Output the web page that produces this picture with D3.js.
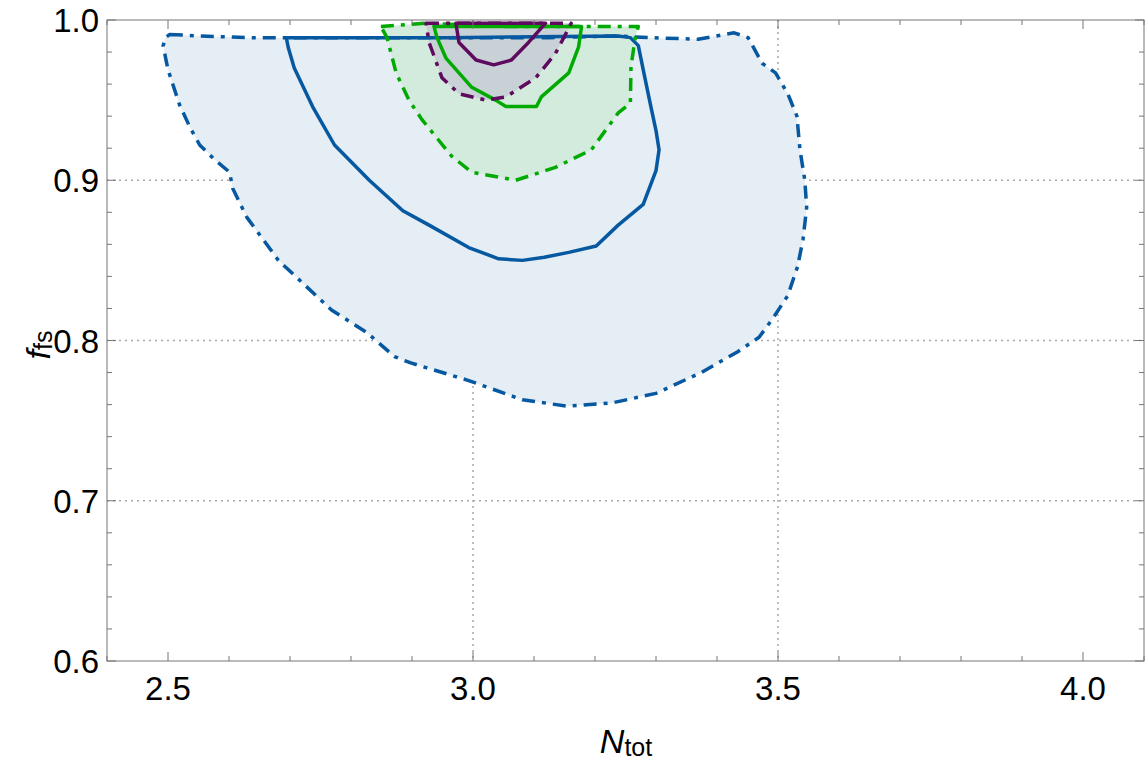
<!DOCTYPE html>
<html>
<head>
<meta charset="utf-8">
<script src="https://cdn.jsdelivr.net/npm/d3@7"></script>
<style>
  body { margin: 0; background: #fff; }
  svg { display: block; font-family: "Liberation Sans", Arial, sans-serif; }
</style>
</head>
<body>
<svg></svg>
<script>
// contour points [N_tot, f_fs]
let blueOuter = [
  [2.503,0.991],[2.552,0.990],[2.634,0.989],[2.694,0.989],[2.797,0.989],[2.960,0.989],
  [3.124,0.989],[3.238,0.990],[3.287,0.989],[3.369,0.988],[3.428,0.992],[3.451,0.989],
  [3.474,0.973],[3.496,0.967],[3.516,0.954],[3.531,0.940],[3.536,0.919],[3.544,0.900],
  [3.547,0.883],[3.541,0.863],[3.532,0.846],[3.516,0.828],[3.492,0.814],[3.469,0.802],
  [3.434,0.793],[3.374,0.780],[3.300,0.767],[3.227,0.761],[3.155,0.759],[3.081,0.763],
  [2.993,0.775],[2.898,0.786],[2.871,0.790],[2.826,0.805],[2.768,0.819],[2.681,0.850],
  [2.629,0.877],[2.606,0.895],[2.601,0.905],[2.576,0.913],[2.552,0.922],[2.536,0.933],
  [2.519,0.947],[2.500,0.969],[2.492,0.984],[2.496,0.989]
]
let blueInner = [
  [2.694,0.989],[2.960,0.989],[3.238,0.990],[3.258,0.989],[3.271,0.984],[3.279,0.969],
  [3.291,0.947],[3.300,0.931],[3.305,0.919],[3.300,0.906],[3.291,0.897],[3.279,0.885],
  [3.238,0.872],[3.202,0.859],[3.157,0.855],[3.117,0.852],[3.081,0.850],[3.042,0.851],
  [2.993,0.858],[2.928,0.872],[2.885,0.881],[2.830,0.900],[2.773,0.922],[2.737,0.946],
  [2.707,0.970],[2.697,0.983]
]
let greenOuter = [
  [2.849,0.996],[2.923,0.998],[3.042,0.996],[3.161,0.996],[3.271,0.996],[3.266,0.989],
  [3.259,0.971],[3.258,0.948],[3.238,0.942],[3.194,0.919],[3.135,0.908],[3.070,0.900],
  [2.998,0.905],[2.965,0.915],[2.916,0.938],[2.895,0.950],[2.874,0.967],[2.859,0.989]
]
let greenInner = [
  [2.936,0.996],[3.178,0.996],[3.173,0.983],[3.157,0.967],[3.112,0.952],[3.104,0.946],
  [3.054,0.946],[3.037,0.950],[2.998,0.958],[2.956,0.976],[2.941,0.989]
]
let purpleOuter = [
  [2.923,0.998],[3.161,0.998],[3.153,0.992],[3.135,0.979],[3.103,0.964],[3.054,0.952],
  [3.021,0.950],[2.977,0.954],[2.949,0.964],[2.928,0.986]
]
let purpleInner = [
  [2.972,0.998],[3.119,0.998],[3.091,0.986],[3.063,0.975],[3.034,0.972],[3.005,0.975],
  [2.977,0.986]
]

let xTicks = [2.5, 3.0, 3.5, 4.0]
let yTicks = [0.6, 0.7, 0.8, 0.9, 1.0]
let xGrid = [3.0, 3.5]
let yGrid = [0.7, 0.8, 0.9]

let width = 1146
let height = 765
let plotLeft = 107, plotRight = 1144, plotTop = 20, plotBottom = 661

let svg = d3.select('svg').attr('width', width).attr('height', height)

let xScale = d3.scaleLinear().domain([2.4, 4.1]).range([plotLeft, plotRight])
let yScale = d3.scaleLinear().domain([0.6, 1.0]).range([plotBottom, plotTop])

let blue = '#0658a0'
let green = '#00aa00'
let purple = '#5e0a5e'
let dashDot = '13,7,4,7'

// grid
svg.append('g').selectAll('line').data(xGrid).join('line')
    .attr('x1', d => xScale(d)).attr('x2', d => xScale(d))
    .attr('y1', plotTop).attr('y2', plotBottom)
    .attr('stroke', '#a8a8a8').attr('stroke-width', 1.5).attr('stroke-dasharray', '2,4')
svg.append('g').selectAll('line').data(yGrid).join('line')
    .attr('x1', plotLeft).attr('x2', plotRight)
    .attr('y1', d => yScale(d)).attr('y2', d => yScale(d))
    .attr('stroke', '#a8a8a8').attr('stroke-width', 1.5).attr('stroke-dasharray', '2,4')

let line = d3.line().x(d => xScale(d[0])).y(d => yScale(d[1]))
let closed = pts => line(pts) + 'Z'

// fills
svg.append('path').attr('d', closed(blueOuter)).attr('fill', '#e5edf5')
svg.append('path').attr('d', closed(greenOuter)).attr('fill', '#d3ebdc')
svg.append('path').attr('d', closed(purpleOuter)).attr('fill', '#c8d1d5')

// outlines
let contours = [
  [blueOuter, blue, dashDot],
  [blueInner, blue, null],
  [greenOuter, green, dashDot],
  [greenInner, green, null],
  [purpleOuter, purple, dashDot],
  [purpleInner, purple, null]
]
contours.forEach(c => {
    svg.append('path').attr('d', closed(c[0]))
        .attr('fill', 'none').attr('stroke', c[1]).attr('stroke-width', 3.5)
        .attr('stroke-linejoin', 'round')
        .attr('stroke-dasharray', c[2])
})

// frame
svg.append('rect').attr('x', plotLeft).attr('y', plotTop)
    .attr('width', plotRight - plotLeft).attr('height', plotBottom - plotTop)
    .attr('fill', 'none').attr('stroke', '#777').attr('stroke-width', 1)

// ticks
let xMinor = d3.range(24, 42).map(d => d / 10)
let yMinor = d3.range(30, 51).map(d => d / 50)
let isMajorX = d => Math.abs(d * 2 - Math.round(d * 2)) < 1e-6
let isMajorY = d => Math.abs(d * 10 - Math.round(d * 10)) < 1e-6

let tickG = svg.append('g').attr('stroke', '#777').attr('stroke-width', 1)
xMinor.forEach(d => {
    let len = isMajorX(d) ? 9 : 5
    let x = xScale(d)
    tickG.append('line').attr('x1', x).attr('x2', x).attr('y1', plotBottom).attr('y2', plotBottom - len)
    tickG.append('line').attr('x1', x).attr('x2', x).attr('y1', plotTop).attr('y2', plotTop + len)
})
yMinor.forEach(d => {
    let len = isMajorY(d) ? 9 : 5
    let y = yScale(d)
    tickG.append('line').attr('x1', plotLeft).attr('x2', plotLeft + len).attr('y1', y).attr('y2', y)
    tickG.append('line').attr('x1', plotRight).attr('x2', plotRight - len).attr('y1', y).attr('y2', y)
})

// tick labels
svg.append('g').selectAll('text').data(xTicks).join('text')
    .attr('x', d => xScale(d)).attr('y', 700)
    .attr('text-anchor', 'middle').attr('font-size', 33).attr('fill', '#000')
    .text(d => d3.format('.1f')(d))
svg.append('g').selectAll('text').data(yTicks).join('text')
    .attr('x', 99).attr('y', d => yScale(d) + 12)
    .attr('text-anchor', 'end').attr('font-size', 33).attr('fill', '#000')
    .text(d => d3.format('.1f')(d))

// axis labels
let xl = svg.append('text').attr('x', 626).attr('y', 753)
    .attr('text-anchor', 'middle').attr('font-size', 34)
xl.append('tspan').attr('font-style', 'italic').text('N')
xl.append('tspan').attr('font-size', 25).attr('dy', 3).text('tot')

let yl = svg.append('text').attr('transform', 'translate(50,345) rotate(-90)')
    .attr('text-anchor', 'middle').attr('font-size', 34)
yl.append('tspan').attr('font-style', 'italic').text('f')
yl.append('tspan').attr('font-size', 25).attr('dy', 2).text('fs')
</script>
</body>
</html>
